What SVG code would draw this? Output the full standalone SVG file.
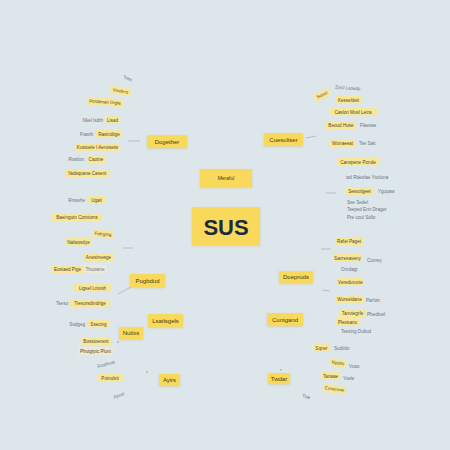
<svg xmlns="http://www.w3.org/2000/svg" width="450" height="450" viewBox="0 0 450 450">
<defs>
<style>
text{font-family:"Liberation Sans","DejaVu Sans",sans-serif}
.lf{fill:#f6e79c}
.lp{fill:#ece9d6}
.lt{font-size:4.6px;fill:#5a4a18;text-anchor:middle;dominant-baseline:central}
.gt{font-size:4.6px;fill:#6a7486;dominant-baseline:central}
.ge{font-size:4.6px;fill:#6a7486;dominant-baseline:central;text-anchor:end}
.nb{fill:#f8d95c}
.nt{font-size:6px;fill:#4a3a0e;text-anchor:middle;dominant-baseline:central}
.cn{stroke:#aab4bf;stroke-width:0.8;fill:none}
.dt{fill:#aab4bf}
</style>
<filter id="sh" x="-20%" y="-20%" width="140%" height="140%"><feDropShadow dx="0" dy="0.8" stdDeviation="0.8" flood-color="#c9b24a" flood-opacity="0.45"/></filter>
</defs>
<rect width="450" height="450" fill="#dde6eb"/>

<g id="connectors">
<line class="cn" x1="128" y1="141" x2="140" y2="141"/>
<line class="cn" x1="306" y1="138" x2="316" y2="136"/>
<line class="cn" x1="326" y1="193" x2="336" y2="193"/>
<line class="cn" x1="321" y1="249" x2="331" y2="249"/>
<line class="cn" x1="322" y1="290" x2="330" y2="291"/>
<line class="cn" x1="123" y1="248" x2="133" y2="248"/>
<line class="cn" x1="118" y1="294" x2="131" y2="287"/>
<circle class="dt" cx="118" cy="342" r="0.9"/>
<circle class="dt" cx="147" cy="372" r="0.9"/>
<circle class="dt" cx="281" cy="370" r="0.9"/>
</g>

<g id="center">
<rect class="nb" x="192" y="207" width="68" height="38" filter="url(#sh)"/>
<text x="226" y="227" font-size="22" fill="#1e2a3a" text-anchor="middle" dominant-baseline="central" font-weight="600">SUS</text>
</g>
<g id="meraful">
<rect class="nb" x="200" y="169" width="52" height="18" filter="url(#sh)"/>
<text class="nt" x="226" y="178" style="font-size:5px">Meraful</text>
</g>

<g id="dogether">
<rect class="nb" x="147" y="135" width="40" height="13" rx="1" filter="url(#sh)"/>
<text class="nt" x="167" y="141.5">Dogether</text>
</g>
<g id="cuesoliser">
<rect class="nb" x="264" y="133" width="39" height="13" rx="1" filter="url(#sh)"/>
<text class="nt" x="283.5" y="139.5">Cuesoliser</text>
</g>
<g id="pogbdud">
<rect class="nb" x="130" y="274" width="35" height="13" rx="1" filter="url(#sh)"/>
<text class="nt" x="147.5" y="280.5">Pogbdud</text>
</g>
<g id="doepruds">
<rect class="nb" x="279" y="271" width="34" height="12" rx="1" filter="url(#sh)"/>
<text class="nt" x="296" y="277">Doepruds</text>
</g>
<g id="lsatlsgels">
<rect class="nb" x="148" y="314" width="35" height="13" rx="1" filter="url(#sh)"/>
<text class="nt" x="165.5" y="320.5">Lsatlsgels</text>
</g>
<g id="nutlxs">
<rect class="nb" x="119" y="327" width="24" height="12" rx="1" filter="url(#sh)"/>
<text class="nt" x="131" y="333">Nutlxs</text>
</g>
<g id="cuntgand">
<rect class="nb" x="267" y="313" width="36" height="13" rx="1" filter="url(#sh)"/>
<text class="nt" x="285" y="319.5">Cuntgand</text>
</g>
<g id="ayirs">
<rect class="nb" x="159" y="374" width="21" height="12" rx="1" filter="url(#sh)"/>
<text class="nt" x="169.5" y="380">Ayirs</text>
</g>
<g id="twdar">
<rect class="nb" x="268" y="373" width="22" height="11" rx="1" filter="url(#sh)"/>
<text class="nt" x="279" y="378.5">Twdar</text>
</g>

<g id="leaves-left-top">
<text class="gt" x="123" y="79" transform="rotate(20 129 79)">Tres</text>
<g transform="rotate(10 120 91)"><rect class="lf" x="110" y="87" width="21" height="8"/><text class="lt" x="120.5" y="91">Vonfers</text></g>
<g transform="rotate(4 105 102)"><rect class="lf" x="87" y="98" width="36" height="8"/><text class="lt" x="105" y="102">Pordenan Digte</text></g>
<text class="ge" x="103" y="120">Nkel Isdth</text>
<rect class="lf" x="105" y="116" width="15" height="8"/><text class="lt" x="112.5" y="120">Lisad</text>
<text class="ge" x="93" y="134">Frasth</text>
<rect class="lf" x="96" y="130" width="26" height="8"/><text class="lt" x="109" y="134">Rasinditge</text>
<rect class="lf" x="75" y="143" width="45" height="8"/><text class="lt" x="97.5" y="147">Kustoele I Aenoseiw</text>
<text class="ge" x="84" y="159">Rostlon</text>
<rect class="lf" x="87" y="155" width="18" height="8"/><text class="lt" x="96" y="159">Caotne</text>
<rect class="lf" x="65" y="169" width="44" height="8"/><text class="lt" x="87" y="173">Yadsquane Casent</text>
</g>

<g id="leaves-right-top">
<g transform="rotate(-25 322 95)"><rect class="lf" x="314" y="91" width="16" height="8"/><text class="lt" x="322" y="95">Sonsl</text></g>
<text class="gt" x="335" y="87" transform="rotate(4 335 87)">Zyicl Lesedy</text>
<rect class="lf" x="335" y="96" width="27" height="8"/><text class="lt" x="348.5" y="100">Kesseldeit</text>
<rect class="lf" x="329" y="108" width="48" height="8"/><text class="lt" x="353" y="112">Caslon Musl Letra</text>
<rect class="lf" x="326" y="121" width="30" height="8"/><text class="lt" x="341" y="125">Beoud Huse</text>
<text class="gt" x="360" y="125.5">Flaeose</text>
<rect class="lf" x="329" y="139" width="27" height="8"/><text class="lt" x="342.5" y="143">Wonaeeat</text>
<text class="gt" x="359" y="143.5">Tse Satt</text>
<rect class="lf" x="337" y="158" width="42" height="8"/><text class="lt" x="358" y="162">Canspene Ponde</text>
<text class="gt" x="346" y="177">wd Rdeolae Ytutluna</text>
<rect class="lf" x="346" y="187" width="27" height="8"/><text class="lt" x="359.5" y="191">Sesvolgeet</text>
<text class="gt" x="378" y="191">Ygupaw</text>
<text class="gt" x="347" y="202">Sse Sedel</text>
<text class="gt" x="347" y="209.5">Tseped Enn Drager</text>
<text class="gt" x="347" y="217">Pre coul Sollo</text>
</g>

<g id="leaves-left-mid">
<text class="ge" x="85" y="200">Rmsshe</text>
<rect class="lf" x="87" y="196" width="19" height="8"/><text class="lt" x="96.5" y="200">Ugait</text>
<rect class="lf" x="52" y="213" width="50" height="8"/><text class="lt" x="77" y="217">Baeingutn Comtoms</text>
<g transform="rotate(5 103 234)"><rect class="lf" x="93" y="230" width="20" height="8"/><text class="lt" x="103" y="234">Fotrging</text></g>
<rect class="lf" x="65" y="238" width="27" height="8"/><text class="lt" x="78.5" y="242">Nalwosdye</text>
<rect class="lf" x="84" y="253" width="29" height="8"/><text class="lt" x="98.5" y="257">Anesimesge</text>
<rect class="lf" x="52" y="265" width="31" height="8"/><text class="lt" x="67.5" y="269">Eosiaed Pige</text>
<rect class="lp" x="84" y="265" width="22" height="8"/><text class="lt" x="95" y="269" style="fill:#6a7486">Thoowne</text>
<rect class="lf" x="74" y="284" width="37" height="8"/><text class="lt" x="92.5" y="288">Ligsel Lntosh</text>
<text class="ge" x="68" y="303">Tseso</text>
<rect class="lf" x="70" y="299" width="40" height="8"/><text class="lt" x="90" y="303">Tresorsdindrige</text>
</g>

<g id="leaves-right-mid">
<rect class="lf" x="335" y="237" width="28" height="8"/><text class="lt" x="349" y="241">Rafei Paget</text>
<rect class="lf" x="333" y="254" width="29" height="8"/><text class="lt" x="347.5" y="258">Sanresaveny</text>
<text class="gt" x="367" y="260">Cunrey</text>
<text class="gt" x="341" y="269">Onrdagt</text>
<rect class="lf" x="338" y="278" width="25" height="8"/><text class="lt" x="350.5" y="282">Veredurunie</text>
<rect class="lf" x="336" y="295" width="27" height="8"/><text class="lt" x="349.5" y="299">Wurseldane</text>
<text class="gt" x="366" y="300">Parfort</text>
</g>

<g id="leaves-left-bottom">
<text class="ge" x="85" y="324">Sudgeg</text>
<rect class="lf" x="88" y="320" width="21" height="8"/><text class="lt" x="98.5" y="324">Ssecing</text>
<rect class="lf" x="81" y="337" width="30" height="8"/><text class="lt" x="96" y="341">Bossioenent</text>
<rect class="lp" x="78" y="347" width="35" height="8"/><text class="lt" x="95.5" y="351">Phuigrpic Plunt</text>
<text class="gt" x="97" y="364" transform="rotate(-15 107 364)">Rosthost</text>
<rect class="lf" x="97" y="374" width="26" height="8"/><text class="lt" x="110" y="378">Poinulsit</text>
<text class="gt" x="113" y="395" transform="rotate(-20 120 395)">Aposl</text>
</g>

<g id="leaves-right-bottom">
<rect class="lf" x="340" y="309" width="25" height="8"/><text class="lt" x="352.5" y="313">Tanvtegrfe</text>
<text class="gt" x="367" y="314">Phedtuel</text>
<rect class="lf" x="336" y="318" width="23" height="8"/><text class="lt" x="347.5" y="322">Pleosanu</text>
<text class="gt" x="341" y="331">Tessing Dultud</text>
<rect class="lf" x="313" y="344" width="17" height="8"/><text class="lt" x="321.5" y="348">Sqner</text>
<text class="gt" x="334" y="348">Sudlolo</text>
<g transform="rotate(8 338 363)"><rect class="lf" x="330" y="359" width="16" height="8"/><text class="lt" x="338" y="363">Nyshs</text></g>
<text class="gt" x="349" y="366">Vuso</text>
<rect class="lf" x="322" y="372" width="17" height="8"/><text class="lt" x="330.5" y="376">Tanaae</text>
<text class="gt" x="343" y="378">Yoele</text>
<g transform="rotate(8 334 389)"><rect class="lf" x="323" y="385" width="23" height="8"/><text class="lt" x="334.5" y="389">Corecone</text></g>
<text class="gt" x="302" y="397" transform="rotate(20 307 397)">Tsie</text>
</g>
</svg>
